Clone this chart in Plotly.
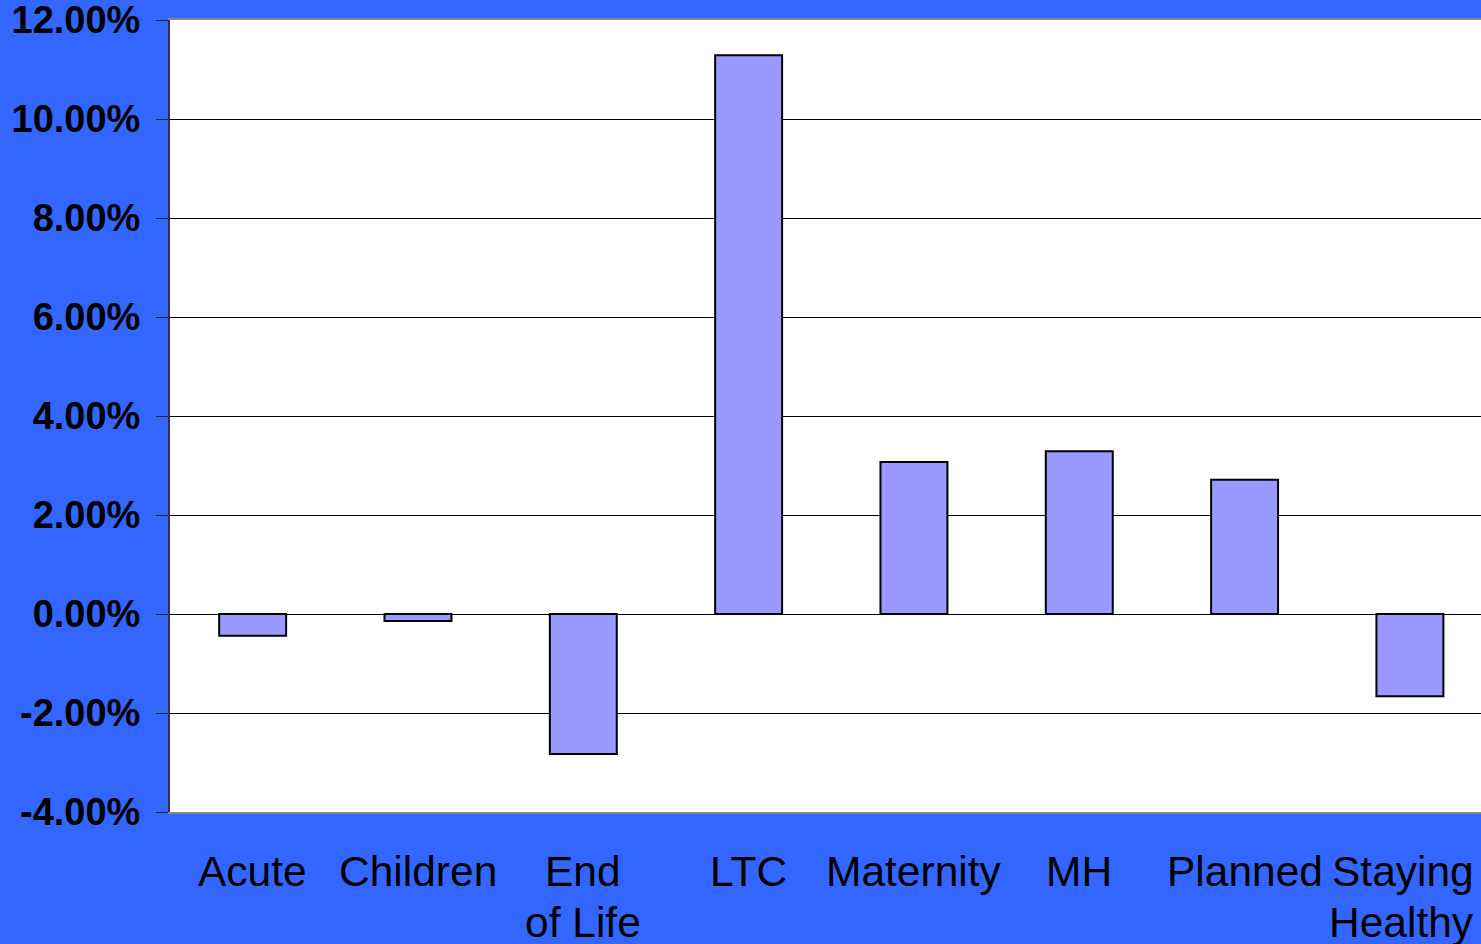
import plotly.graph_objects as go

categories = ["Acute", "Children", "End of Life", "LTC", "Maternity", "MH", "Planned", "Staying Healthy"]
label_line1 = ["Acute", "Children", "End", "LTC", "Maternity", "MH", "Planned", "Staying"]
label_line2 = ["", "", "of Life", "", "", "", "", "Healthy"]
values = [-0.0044, -0.0014, -0.0283, 0.1129, 0.0307, 0.0329, 0.0271, -0.0166]
y_ticks = [-0.04, -0.02, 0.0, 0.02, 0.04, 0.06, 0.08, 0.10, 0.12]
y_labels = ["-4.00%", "-2.00%", "0.00%", "2.00%", "4.00%", "6.00%", "8.00%", "10.00%", "12.00%"]

fig = go.Figure(go.Bar(
    x=categories, y=values,
    marker=dict(color="#9999FF", line=dict(color="black", width=2)),
))

lab_font = dict(size=42.5, family="Liberation Sans, Arial", color="black")
n = len(categories)
for i, (cat, l1, l2) in enumerate(zip(categories, label_line1, label_line2)):
    last = i == n - 1
    for txt, shift in ((l1, -59), (l2, -110)):
        if not txt:
            continue
        if last:
            fig.add_annotation(x=1, xref="paper", xanchor="right", xshift=-5,
                               y=0, yref="paper", yanchor="middle", yshift=shift,
                               text=txt, showarrow=False, align="right", font=lab_font)
        else:
            fig.add_annotation(x=cat, xref="x", y=0, yref="paper", yanchor="middle",
                               yshift=shift, text=txt, showarrow=False, font=lab_font)

fig.update_layout(
    width=1481, height=944,
    margin=dict(l=170, r=0, t=20, b=132),
    paper_bgcolor="#3366FF", plot_bgcolor="white",
    bargap=0.595, showlegend=False,
    font=dict(family="Liberation Sans, Arial", color="black"),
)
fig.update_yaxes(
    range=[-0.04, 0.12], tickvals=y_ticks, ticktext=y_labels,
    showgrid=True, gridcolor="black", gridwidth=1,
    zeroline=True, zerolinecolor="black", zerolinewidth=1,
    ticks="outside", ticklen=12, tickcolor="#222222",
    showline=True, linecolor="#333333", linewidth=2,
    tickfont=dict(size=38, family="Liberation Sans, Arial", weight="bold"),
    ticklabelstandoff=8, automargin=False, ticklabeloverflow="allow",
)
fig.update_xaxes(
    range=[-0.5, 7.43],
    showline=True, linecolor="#888888", linewidth=2, mirror=True,
    ticks="", showticklabels=False, automargin=False,
)

fig.write_html("out.html")
